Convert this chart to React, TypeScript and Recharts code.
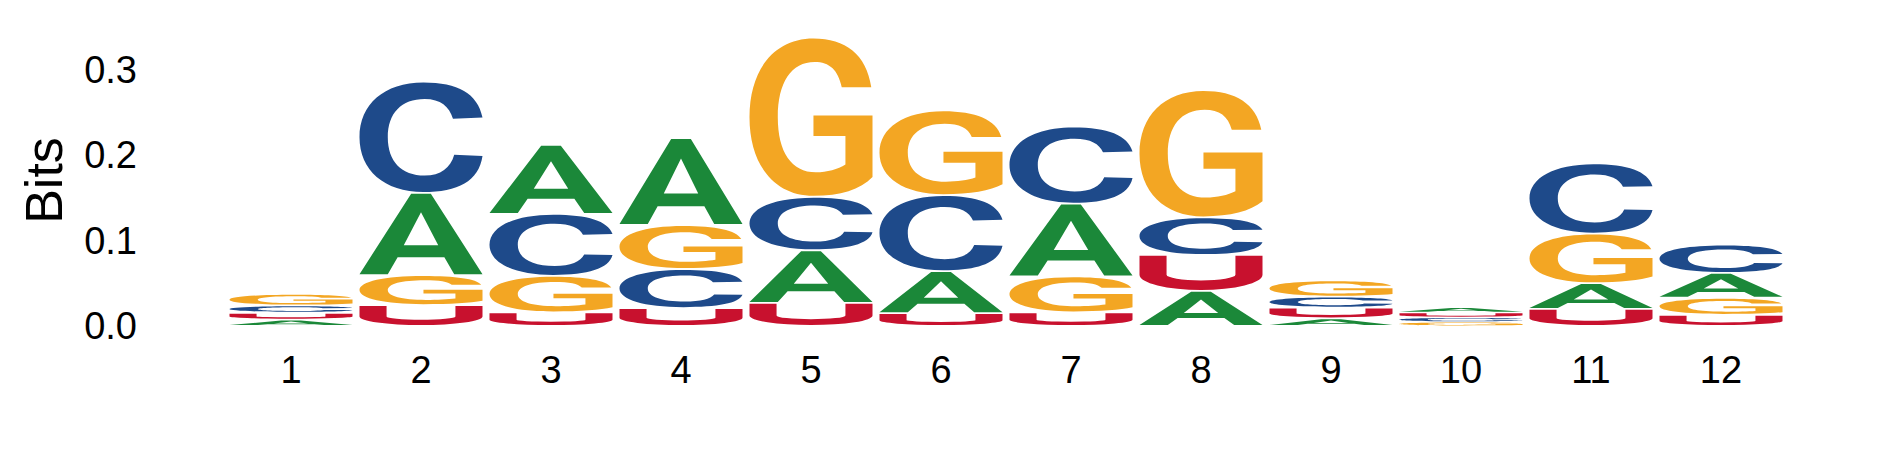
import { Bar, BarChart, XAxis, YAxis } from "recharts";

const POSITIONS = ["1", "2", "3", "4", "5", "6", "7", "8", "9", "10", "11", "12"];
const LETTERS = ["A", "C", "G", "U"];

// information content per letter (bits)
const A_BITS = [0.0075, 0.096, 0.0806, 0.1016, 0.0615, 0.049, 0.085, 0.041, 0.009, 0.0064, 0.03, 0.029];
const C_BITS = [0.0085, 0.13, 0.0724, 0.0456, 0.0625, 0.089, 0.09, 0.044, 0.0128, 0.0052, 0.082, 0.033];
const G_BITS = [0.0135, 0.035, 0.0426, 0.0514, 0.186, 0.099, 0.042, 0.1487, 0.019, 0.0048, 0.058, 0.02];
const U_BITS = [0.008, 0.0245, 0.016, 0.021, 0.027, 0.015, 0.016, 0.042, 0.0125, 0.0056, 0.02, 0.013];

const Y_TICKS = [0, 0.1, 0.2, 0.3];

const COLORS: Record<string, string> = {
  A: "#1b8839",
  C: "#1e4a8a",
  G: "#f3a623",
  U: "#c8112e",
};

const FONT = "'Liberation Sans', Arial, Helvetica, sans-serif";

const BITS: Record<string, number[]> = { A: A_BITS, C: C_BITS, G: G_BITS, U: U_BITS };

// one row per position, letters ranked smallest (bottom) to largest (top)
const data = POSITIONS.map((pos, i) => {
  const ranked = LETTERS.map((l) => ({ l, v: BITS[l][i] })).sort((a, b) => a.v - b.v);
  const row: Record<string, string | number> = { pos };
  ranked.forEach((r, k) => {
    row[`r${k}`] = r.v;
    row[`l${k}`] = r.l;
  });
  return row;
});

// glyph outlines in a unit box, stretched to the bar rect
const glyphPath = (letter: string, x: number, y: number, w: number, h: number) => {
  const P = (u: number, v: number) => `${x + u * w} ${y + v * h}`;
  const R = (rx: number, ry: number) => `${rx * w} ${ry * h}`;
  switch (letter) {
    case "A":
      return (
        `M ${P(0, 1)} L ${P(0.42, 0)} L ${P(0.58, 0)} L ${P(1, 1)} L ${P(0.77, 1)} ` +
        `L ${P(0.69, 0.79)} L ${P(0.31, 0.79)} L ${P(0.23, 1)} Z ` +
        `M ${P(0.36, 0.64)} L ${P(0.64, 0.64)} L ${P(0.5, 0.23)} Z`
      );
    case "C":
      return (
        `M ${P(1, 0.32)} C ${P(0.96, 0.1)} ${P(0.8, 0)} ${P(0.52, 0)} ` +
        `C ${P(0.2, 0)} ${P(0, 0.2)} ${P(0, 0.5)} ` +
        `C ${P(0, 0.8)} ${P(0.2, 1)} ${P(0.52, 1)} ` +
        `C ${P(0.8, 1)} ${P(0.97, 0.9)} ${P(1, 0.67)} ` +
        `L ${P(0.77, 0.66)} C ${P(0.74, 0.78)} ${P(0.66, 0.85)} ${P(0.53, 0.85)} ` +
        `C ${P(0.34, 0.85)} ${P(0.23, 0.72)} ${P(0.23, 0.5)} ` +
        `C ${P(0.23, 0.28)} ${P(0.34, 0.15)} ${P(0.53, 0.15)} ` +
        `C ${P(0.66, 0.15)} ${P(0.73, 0.22)} ${P(0.76, 0.33)} Z`
      );
    case "G":
      return (
        `M ${P(0.99, 0.31)} C ${P(0.95, 0.1)} ${P(0.78, 0)} ${P(0.52, 0)} ` +
        `C ${P(0.2, 0)} ${P(0, 0.2)} ${P(0, 0.5)} ` +
        `C ${P(0, 0.8)} ${P(0.2, 1)} ${P(0.52, 1)} ` +
        `C ${P(0.74, 1)} ${P(0.9, 0.96)} ${P(1, 0.88)} ` +
        `L ${P(1, 0.49)} L ${P(0.52, 0.49)} L ${P(0.52, 0.62)} L ${P(0.78, 0.62)} L ${P(0.78, 0.8)} ` +
        `C ${P(0.72, 0.83)} ${P(0.63, 0.85)} ${P(0.54, 0.85)} ` +
        `C ${P(0.34, 0.85)} ${P(0.23, 0.72)} ${P(0.23, 0.5)} ` +
        `C ${P(0.23, 0.28)} ${P(0.34, 0.15)} ${P(0.53, 0.15)} ` +
        `C ${P(0.65, 0.15)} ${P(0.72, 0.2)} ${P(0.75, 0.31)} Z`
      );
    default:
      return (
        `M ${P(0, 0)} L ${P(0.22, 0)} L ${P(0.22, 0.55)} A ${R(0.28, 0.17)} 0 0 0 ${P(0.78, 0.55)} ` +
        `L ${P(0.78, 0)} L ${P(1, 0)} L ${P(1, 0.55)} A ${R(0.5, 0.45)} 0 0 1 ${P(0, 0.55)} Z`
      );
  }
};

const LetterShape = (props: any) => {
  const { x, y, width, height, letter } = props;
  if (!letter || !height || height <= 0) return null;
  const pad = Math.min(0.9, height * 0.15);
  return (
    <path
      d={glyphPath(letter, x, y + pad, width, height - 2 * pad)}
      fill={COLORS[letter]}
      fillRule="evenodd"
    />
  );
};

const BitsLabel = (props: any) => {
  const { viewBox } = props;
  const cx = 62;
  const cy = viewBox.y + viewBox.height / 2;
  return (
    <text
      x={cx}
      y={cy}
      transform={`rotate(-90 ${cx} ${cy})`}
      textAnchor="middle"
      fontSize={52}
      fontFamily={FONT}
      fill="#000"
    >
      Bits
    </text>
  );
};

export default function App() {
  return (
    <div style={{ position: "fixed", left: 0, top: 0, background: "#fff" }}>
      <BarChart
        width={1889}
        height={472}
        data={data}
        margin={{ top: 35, right: 103, left: 0, bottom: 86 }}
        barCategoryGap={3.5}
      >
        <XAxis
          dataKey="pos"
          axisLine={false}
          tickLine={false}
          tickSize={0}
          tickMargin={30}
          interval={0}
          height={60}
          tick={{ fill: "#000", fontSize: 38, fontFamily: FONT }}
        />
        <YAxis
          type="number"
          domain={[0, 0.34]}
          ticks={Y_TICKS}
          width={226}
          axisLine={false}
          tickLine={false}
          tickSize={0}
          tickMargin={89}
          tickFormatter={(v: number) => v.toFixed(1)}
          tick={{ fill: "#000", fontSize: 38, fontFamily: FONT }}
          label={<BitsLabel />}
        />
        {[0, 1, 2, 3].map((k) => (
          <Bar
            key={k}
            dataKey={`r${k}`}
            stackId="logo"
            isAnimationActive={false}
            shape={(p: any) => <LetterShape {...p} letter={p.payload[`l${k}`]} />}
          />
        ))}
      </BarChart>
    </div>
  );
}
